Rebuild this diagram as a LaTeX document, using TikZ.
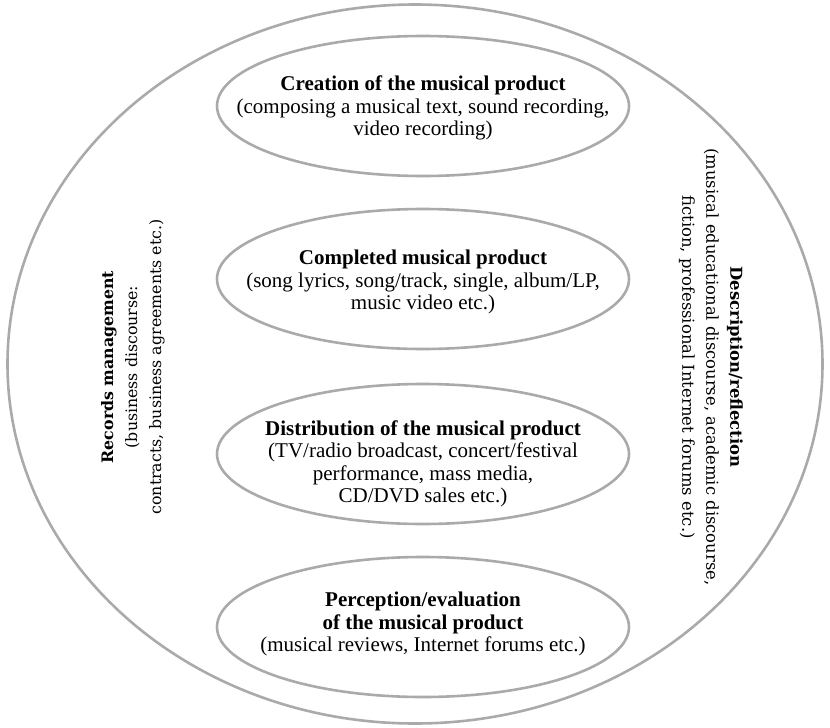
\documentclass[tikz,border=0pt]{standalone}
\usepackage{fontspec}
\setmainfont{Liberation Serif}
\newfontfamily\sidefont{DejaVu Serif}
\usetikzlibrary{shapes.geometric}

\definecolor{ringgray}{RGB}{170,170,170}

\tikzset{
  stage/.style={ellipse, draw=ringgray, line width=2.6pt, minimum width=412pt,
    minimum height=140pt, inner sep=0pt},
  stagetext/.style={align=center, inner sep=0pt,
    font=\fontsize{21}{22.5}\selectfont},
  sidetext/.style={align=center, font=\sidefont\fontsize{15}{24}\selectfont}
}

\begin{document}
\begin{tikzpicture}[x=1pt,y=-1pt]
  \useasboundingbox (0,0) rectangle (830,728);

  % the big ring round everything
  \node[ellipse, draw=ringgray, line width=2.6pt, minimum width=815pt,
        minimum height=719pt, inner sep=0pt] (ring) at (415,364) {};

  % the four stages, top to bottom
  \node[stage] (creation) at (423,106) {};
  \node[stage] (completed) at (423,279) {};
  \node[stage] (distribution) at (423,454) {};
  \node[stage] (perception) at (423,627) {};

  \node[stagetext] (creation-t) at ([yshift=-2pt]creation)
    {\textbf{Creation of the musical product}\\
     (composing a musical text, sound recording,\\
     video recording)};
  \node[stagetext] (completed-t) at ([yshift=-3pt]completed)
    {\textbf{Completed musical product}\\
     (song lyrics, song/track, single, album/LP,\\
     music video etc.)};
  \node[stagetext] (distribution-t) at ([yshift=-10pt]distribution)
    {\textbf{Distribution of the musical product}\\
     (TV/radio broadcast, concert/festival\\
     performance, mass media,\\
     CD/DVD sales etc.)};
  \node[stagetext] (perception-t) at ([yshift=3pt]perception)
    {\textbf{Perception/evaluation}\\
     \textbf{of the musical product}\\
     (musical reviews, Internet forums etc.)};

  % texts along the sides
  \node[sidetext, rotate=90, font=\sidefont\fontsize{15.8}{24}\selectfont]
    (records) at (133,367)
    {\textbf{Records management}\\
     (business discourse:\\
     contracts, business agreements etc.)};
  \node[sidetext, rotate=-90, font=\sidefont\fontsize{16.4}{24}\selectfont]
    (description) at (711,367)
    {\textbf{Description/reflection}\\
     (musical educational discourse, academic discourse,\\
     fiction, professional Internet forums etc.)};
\end{tikzpicture}
\end{document}
